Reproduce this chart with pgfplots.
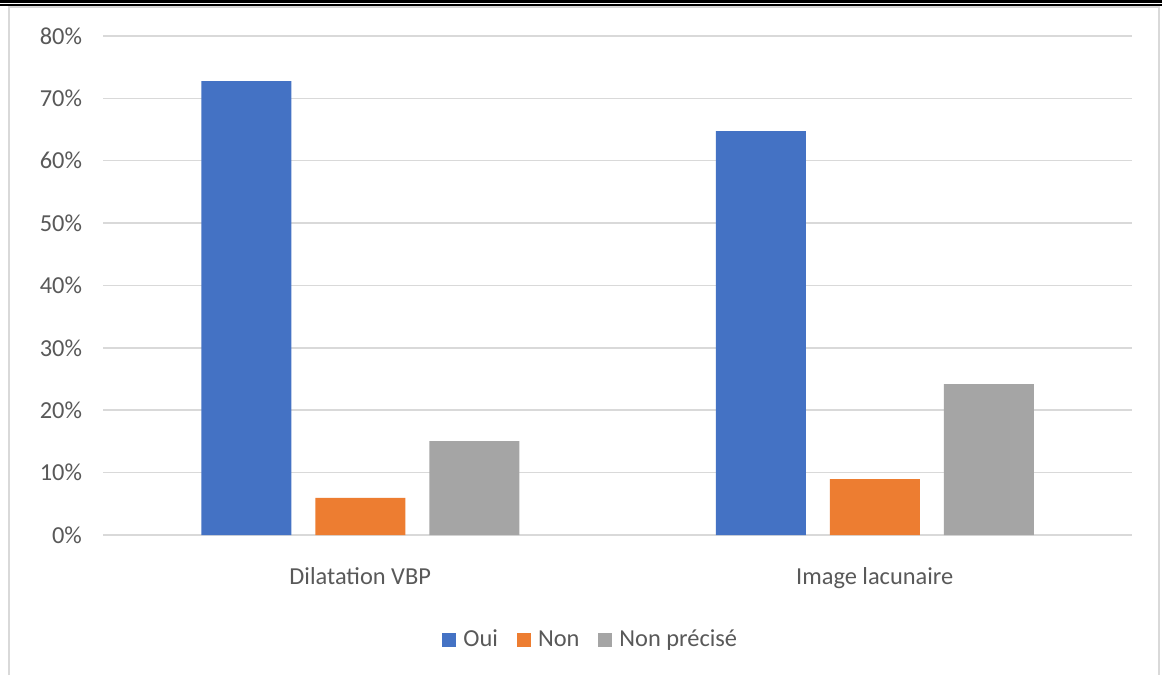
\documentclass[border=0pt]{standalone}
\usepackage{pgfplots}
\pgfplotsset{compat=1.18}
\usepackage{fontspec}
\setmainfont{Carlito}
\definecolor{oui}{HTML}{4472C4}
\definecolor{non}{HTML}{ED7D31}
\definecolor{np}{HTML}{A5A5A5}
\definecolor{txt}{HTML}{595959}
\definecolor{gridc}{HTML}{D9D9D9}
\begin{document}
\begin{tikzpicture}
\useasboundingbox (0,0) rectangle (581pt,337.5pt);
\fill[white] (0,0) rectangle (581pt,337.5pt);
% double rule on top
\draw[line width=1.65pt] (0,336.7pt) -- (581pt,336.7pt);
\draw[line width=0.85pt] (0,334.9pt) -- (581pt,334.9pt);
% chart frame
\draw[gridc, line width=1pt] (4.25pt,0) -- (4.25pt,333.75pt) -- (579.6pt,333.75pt) -- (579.6pt,0);
\begin{axis}[
  at={(51.5pt,70pt)}, anchor=south west,
  scale only axis, width=514.5pt, height=249.5pt,
  ybar=12pt, bar width=45pt,
  xmin=-0.5, xmax=1.5, ymin=0, ymax=80,
  xtick={0,1}, xticklabels={Dilatation VBP, Image lacunaire},
  ytick={0,10,...,80},
  yticklabel={\pgfmathprintnumber{\tick}\%},
  /pgf/number format/assume math mode=true,
  axis line style={draw=none},
  major tick length=0pt,
  ymajorgrids, major grid style={gridc, line width=0.75pt},
  tick label style={font=\fontsize{12.2}{14}\selectfont, text=txt},
  yticklabel style={xshift=-7pt},
  xticklabel style={yshift=-12.5pt},
  legend style={at={(0.475,-0.21)}, anchor=center, draw=none, fill=none,
    font=\fontsize{12.2}{14}\selectfont, text=txt,
    legend columns=3, column sep=0pt,
    /tikz/every odd column/.append style={column sep=1.5pt},
    /tikz/every even column/.append style={column sep=7.5pt}},
  legend image code/.code={\fill[#1] (0pt,-3.5pt) rectangle (7pt,3.5pt);},
]
\addplot[fill=oui, draw=none] coordinates {(0,72.75) (1,64.75)};
\addplot[fill=non, draw=none] coordinates {(0,5.95) (1,8.95)};
\addplot[fill=np, draw=none] coordinates {(0,15.05) (1,24.2)};
\legend{Oui, Non, Non précisé}
\end{axis}
\end{tikzpicture}
\end{document}
